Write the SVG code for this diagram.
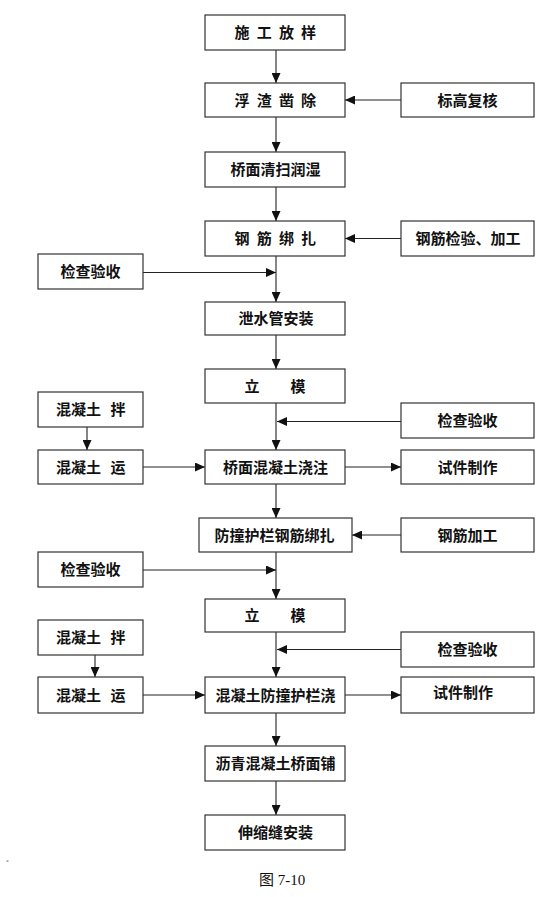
<svg xmlns="http://www.w3.org/2000/svg" width="554" height="897" viewBox="0 0 554 897">
<style>
.box{fill:#fff;stroke:#333;stroke-width:1.2}
.t{font-family:"Noto Sans CJK SC","Liberation Sans",sans-serif;font-size:15px;font-weight:bold;fill:#111}
.c{text-anchor:middle}
.ln{stroke:#222;stroke-width:1.1;fill:none;marker-end:url(#ah)}
.cap{font-family:"Liberation Serif","Noto Sans CJK SC",serif;font-size:15px;fill:#111}
</style>
<defs>
<marker id="ah" markerUnits="userSpaceOnUse" markerWidth="10" markerHeight="9" refX="10" refY="4.5" orient="auto">
<path d="M0,0 L10,4.5 L0,9 z" fill="#111"/>
</marker>
</defs>
<rect width="554" height="897" fill="#fff"/>
<g id="connectors">
<line class="ln" x1="276" y1="50" x2="276" y2="83"/>
<line class="ln" x1="276" y1="117" x2="276" y2="152"/>
<line class="ln" x1="401" y1="100" x2="345" y2="100"/>
<line class="ln" x1="276" y1="187" x2="276" y2="221"/>
<line class="ln" x1="401" y1="238.5" x2="345" y2="238.5"/>
<line class="ln" x1="276" y1="256" x2="276" y2="302"/>
<line class="ln" x1="143" y1="272.5" x2="276" y2="272.5"/>
<line class="ln" x1="276" y1="335" x2="276" y2="369"/>
<line class="ln" x1="276" y1="403" x2="276" y2="450"/>
<line class="ln" x1="401" y1="421.5" x2="277" y2="421.5"/>
<line class="ln" x1="87" y1="427" x2="87" y2="450"/>
<line class="ln" x1="143" y1="467" x2="205" y2="467"/>
<line class="ln" x1="345" y1="467" x2="401" y2="467"/>
<line class="ln" x1="276" y1="484" x2="276" y2="518"/>
<line class="ln" x1="401" y1="535" x2="352" y2="535"/>
<line class="ln" x1="276" y1="552" x2="276" y2="599"/>
<line class="ln" x1="143" y1="570" x2="276" y2="570"/>
<line class="ln" x1="276" y1="632" x2="276" y2="677"/>
<line class="ln" x1="401" y1="649.5" x2="277" y2="649.5"/>
<line class="ln" x1="95" y1="655" x2="95" y2="677"/>
<line class="ln" x1="143" y1="695" x2="205" y2="695"/>
<line class="ln" x1="345" y1="695" x2="401" y2="695"/>
<line class="ln" x1="276" y1="713" x2="276" y2="746"/>
<line class="ln" x1="276" y1="781" x2="276" y2="815"/>
</g>
<g id="n1"><rect class="box" x="205" y="15" width="140" height="35"/><text class="t" x="234.5 249 256.7 271 278.9 293 301.1" y="38">施 工 放 样</text></g>
<g id="n2"><rect class="box" x="205" y="83" width="140" height="34"/><text class="t" x="234.5 249 256.7 271 278.9 293 301.1" y="105.5">浮 渣 凿 除</text></g>
<g id="n3"><rect class="box" x="205" y="152" width="140" height="35"/><text class="t c" x="275.5" y="175">桥面清扫润湿</text></g>
<g id="n4"><rect class="box" x="205" y="221" width="140" height="35"/><text class="t" x="234.5 249 256.7 271 278.9 293 301.1" y="244">钢 筋 绑 扎</text></g>
<g id="n5"><rect class="box" x="205" y="302" width="140" height="33"/><text class="t c" x="276" y="324">泄水管安装</text></g>
<g id="n6"><rect class="box" x="205" y="369" width="140" height="34"/><text class="t" x="244.5 262 290.5" y="391.5">立 模</text></g>
<g id="n7"><rect class="box" x="205" y="450" width="140" height="34"/><text class="t c" x="275.5" y="472.5">桥面混凝土浇注</text></g>
<g id="n8"><rect class="box" x="199" y="518" width="153" height="34"/><text class="t c" x="274.5" y="540.5" font-size="14.5">防撞护栏钢筋绑扎</text></g>
<g id="n9"><rect class="box" x="205" y="599" width="140" height="33"/><text class="t" x="244.5 262 290.5" y="621">立 模</text></g>
<g id="n10"><rect class="box" x="205" y="677" width="140" height="36"/><text class="t c" x="275.5" y="700.5">混凝土防撞护栏浇</text></g>
<g id="n11"><rect class="box" x="205" y="746" width="140" height="35"/><text class="t c" x="275.5" y="769">沥青混凝土桥面铺</text></g>
<g id="n12"><rect class="box" x="205" y="815" width="140" height="35"/><text class="t c" x="275.5" y="838">伸缩缝安装</text></g>
<g id="r1"><rect class="box" x="401" y="83" width="133" height="34"/><text class="t c" x="467.5" y="105.5">标高复核</text></g>
<g id="r2"><rect class="box" x="401" y="221" width="133" height="35"/><text class="t c" x="468" y="244">钢筋检验、加工</text></g>
<g id="r3"><rect class="box" x="401" y="403" width="133" height="35"/><text class="t c" x="467.5" y="426">检查验收</text></g>
<g id="r4"><rect class="box" x="401" y="450" width="133" height="34"/><text class="t c" x="467.5" y="472.5">试件制作</text></g>
<g id="r5"><rect class="box" x="401" y="518" width="133" height="34"/><text class="t c" x="467.5" y="540.5">钢筋加工</text></g>
<g id="r6"><rect class="box" x="401" y="632" width="133" height="35"/><text class="t c" x="467.5" y="655">检查验收</text></g>
<g id="r7"><rect class="box" x="401" y="677" width="133" height="36"/><text class="t c" x="463" y="697.5">试件制作</text></g>
<g id="l1"><rect class="box" x="38" y="254" width="105" height="35"/><text class="t c" x="90.5" y="277">检查验收</text></g>
<g id="l2"><rect class="box" x="38" y="392" width="105" height="35"/><text class="t" x="56 71 86 101 110.5" y="415">混凝土 拌</text></g>
<g id="l3"><rect class="box" x="38" y="450" width="105" height="34"/><text class="t" x="56 71 86 101 110.5" y="472.5">混凝土 运</text></g>
<g id="l4"><rect class="box" x="38" y="552" width="105" height="35"/><text class="t c" x="90.5" y="575">检查验收</text></g>
<g id="l5"><rect class="box" x="38" y="620" width="105" height="35"/><text class="t" x="56 71 86 101 110.5" y="643">混凝土 拌</text></g>
<g id="l6"><rect class="box" x="38" y="677" width="105" height="36"/><text class="t" x="56 71 86 101 110.5" y="700.5">混凝土 运</text></g>
<rect x="6.5" y="860.5" width="2" height="1.2" fill="#777"/>
<text class="cap" x="259" y="884.5">图 7-10</text>
</svg>
